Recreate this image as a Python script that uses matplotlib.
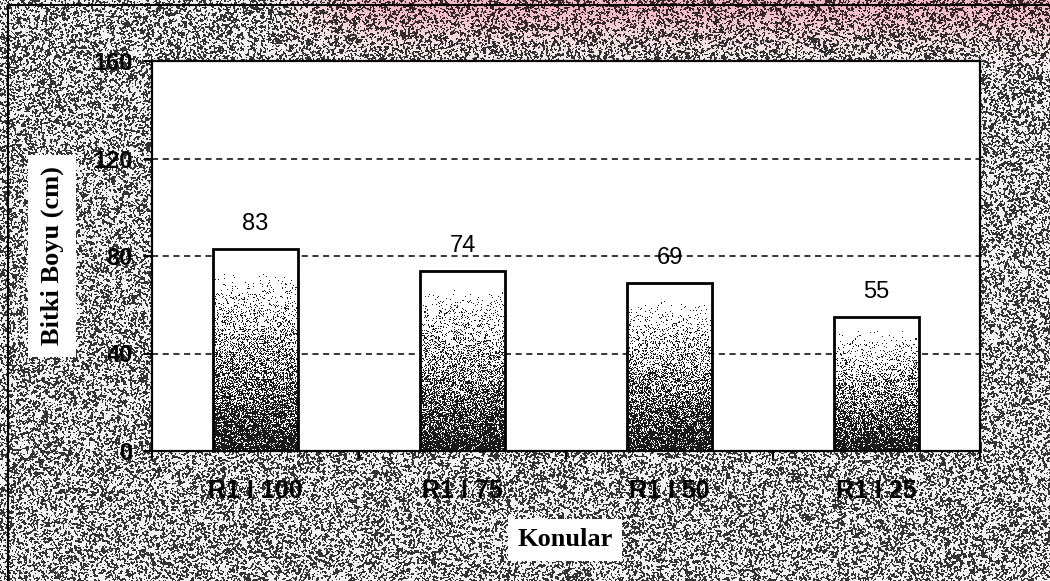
"""Bar chart of plant height (Bitki Boyu) for the four irrigation treatments."""

import numpy as np
import matplotlib

matplotlib.use("Agg")
import matplotlib.pyplot as plt
from matplotlib.lines import Line2D

konular = ["R1 I 100", "R1 I 75", "R1 I 50", "R1 I 25"]
bitki_boyu = [83, 74, 69, 55]
y_ticks = [0, 40, 80, 120, 160]

FIG_W, FIG_H, DPI = 1050, 581, 100

plt.rcParams["font.family"] = ["Liberation Sans", "DejaVu Sans"]


def paper_texture(rng, height, width):
    """Clumpy grey stipple of the chart area, faint pink cast along the top."""
    n = rng.random((height + 1, width + 1))
    s = (n[:-1, :-1] + n[1:, :-1] + n[:-1, 1:] + n[1:, 1:]) / 4
    dark = s < np.quantile(s, 0.42)
    grey = np.where(dark, 0.2, 0.95)
    rgb = np.repeat(grey[:, :, None], 3, axis=2)
    yy, xx = np.mgrid[0:height, 0:width]
    tint = np.exp(-(yy / 40.0) ** 2) * np.clip((xx - 260) / 120.0, 0, 1)
    pink = np.array([1.0, 0.7, 0.78])
    return rgb * (1 - 0.8 * tint[:, :, None] * (1 - pink))


def bar_stipple(rng, rows, cols):
    """White at the top, dense black dots towards the base of the bar."""
    t = np.linspace(0, 1, rows)[:, None]
    density = 0.9 * np.clip((t - 0.1) / 0.9, 0, 1) ** 1.1
    dots = rng.random((rows, cols)) < density
    return np.where(dots, 0.1, 1.0)


def main():
    rng = np.random.default_rng(7)
    fig = plt.figure(figsize=(FIG_W / DPI, FIG_H / DPI), dpi=DPI)
    fig.figimage(paper_texture(rng, FIG_H, FIG_W), xo=0, yo=0,
                 origin="upper", zorder=-1)

    # outer frame, left and top edges only
    fig.add_artist(Line2D([8 / FIG_W, 8 / FIG_W], [0, 1 - 5 / FIG_H],
                          transform=fig.transFigure, color="black", lw=1.5))
    fig.add_artist(Line2D([8 / FIG_W, 1], [1 - 5 / FIG_H, 1 - 5 / FIG_H],
                          transform=fig.transFigure, color="black", lw=1.5))

    ax = fig.add_axes([152 / FIG_W, 1 - 451 / FIG_H, 828 / FIG_W, 390 / FIG_H])
    ax.set_facecolor("white")

    x = np.arange(len(konular))
    bars = ax.bar(x, bitki_boyu, width=0.41, facecolor="none",
                  edgecolor="black", linewidth=2, zorder=4)

    for bar, value in zip(bars, bitki_boyu):
        x0 = bar.get_x()
        x1 = x0 + bar.get_width()
        ax.imshow(bar_stipple(rng, int(value * 2.4), 85), cmap="gray",
                  vmin=0, vmax=1, origin="upper", interpolation="nearest",
                  extent=(x0, x1, 0, bar.get_height()), aspect="auto",
                  zorder=3)
        ax.annotate(f"{value}", ((x0 + x1) / 2, value), xytext=(0, 13.5),
                    textcoords="offset points", ha="center", va="baseline",
                    fontsize=17)

    ax.set_xlim(-0.5, len(konular) - 0.5)
    ax.set_ylim(y_ticks[0], y_ticks[-1])
    ax.set_yticks(y_ticks)

    ax.set_xticks(np.arange(len(konular) + 1) - 0.5)
    ax.set_xticklabels([])
    ax.set_xticks(x, minor=True)
    ax.set_xticklabels(konular, minor=True, fontsize=18, fontweight="bold")
    ax.tick_params(axis="x", which="minor", length=0, pad=20)
    ax.tick_params(axis="x", which="major", length=6, width=1.5)
    ax.tick_params(axis="y", length=6, width=1.5, pad=8, labelsize=17)
    for lab in ax.get_yticklabels():
        lab.set_fontweight("bold")

    ax.yaxis.grid(True, linestyle=(0, (4, 3)), color="black", linewidth=1.1)
    ax.set_axisbelow(True)
    for spine in ax.spines.values():
        spine.set_linewidth(1.6)
        spine.set_zorder(5)

    fig.text(52 / FIG_W, 1 - 256 / FIG_H, "Bitki Boyu (cm)", rotation=90,
             ha="center", va="center", family="Liberation Serif",
             weight="bold", fontsize=19,
             bbox=dict(boxstyle="square,pad=0.45", fc="white", ec="none"))
    fig.text(565 / FIG_W, 1 - 540 / FIG_H, "Konular", ha="center", va="center",
             family="Liberation Serif", weight="bold", fontsize=19,
             bbox=dict(boxstyle="square,pad=0.35", fc="white", ec="none"))

    fig.savefig("out.png", dpi=DPI)


if __name__ == "__main__":
    main()
